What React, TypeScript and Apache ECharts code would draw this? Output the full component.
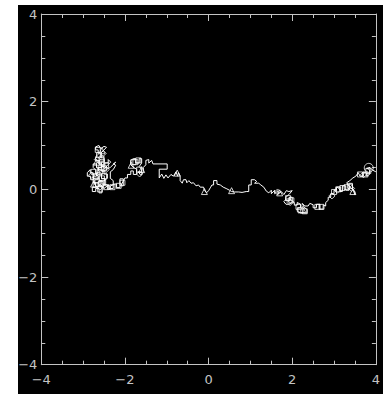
import React, { useEffect, useRef } from "react";
import * as echarts from "echarts";

const xTicks = [-4, -2, 0, 2, 4];
const yTicks = [-4, -2, 0, 2, 4];

const walk: number[][] = [
  [-2.6,0.3],[-2.6,0.38],[-2.68,0.38],[-2.68,0.3],[-2.75,0.3],[-2.75,0.22],[-2.82,0.22],[-2.82,0.3],[-2.9,0.3],[-2.9,0.38],[-2.83,0.45],[-2.83,0.38],[-2.76,0.38],[-2.76,0.15],[-2.7,0.15],[-2.7,0.05],[-2.78,0.05],[-2.78,-0.05],[-2.7,-0.05],[-2.7,0.02],[-2.62,0.02],[-2.62,-0.08],[-2.55,-0.08],[-2.55,0.05],[-2.62,0.1],[-2.62,0.2],[-2.55,0.2],[-2.55,0.12],[-2.48,0.12],[-2.48,0.25],[-2.56,0.25],[-2.56,0.35],[-2.63,0.42],[-2.63,0.5],[-2.55,0.5],[-2.55,0.58],[-2.62,0.58],[-2.62,0.66],[-2.7,0.66],[-2.7,0.74],[-2.64,0.8],[-2.64,0.9],[-2.7,0.9],[-2.7,0.97],[-2.62,1.0],[-2.58,0.93],[-2.5,0.98],[-2.44,0.96],[-2.52,0.88],[-2.58,0.82],[-2.58,0.72],[-2.5,0.72],[-2.5,0.62],[-2.57,0.62],[-2.57,0.52],[-2.48,0.52],[-2.48,0.6],[-2.4,0.6],[-2.4,0.68],[-2.34,0.62],[-2.42,0.55],[-2.5,0.45],[-2.5,0.35],[-2.42,0.35],[-2.42,0.25],[-2.5,0.2],[-2.5,0.1],[-2.42,0.1],[-2.42,0.0],[-2.35,0.0],[-2.35,0.08],[-2.28,0.1],[-2.28,0.2],[-2.35,0.25],[-2.35,0.4],[-2.28,0.45],[-2.22,0.55],[-2.28,0.58],[-2.22,0.62],[-2.35,0.5],[-2.45,0.45],[-2.52,0.4],[-2.6,0.45],[-2.68,0.5],[-2.68,0.58],[-2.76,0.58],[-2.76,0.5],[-2.7,0.44],[-2.7,0.36],[-2.64,0.3],[-2.64,0.22],[-2.72,0.22],[-2.72,0.1],[-2.66,0.05],[-2.58,0.1],[-2.5,0.02],[-2.45,0.06],
  [-2.38,0.1],[-2.38,0.02],[-2.28,0.02],[-2.28,0.12],[-2.2,0.12],[-2.2,0.04],[-2.12,0.04],[-2.12,0.24],[-2.04,0.24],[-2.04,0.08],[-2.1,0.08],[-2.0,0.26],[-1.94,0.26],[-1.94,0.34],[-1.86,0.34],[-1.86,0.42],
  [-1.8,0.42],[-1.8,0.34],[-1.72,0.34],[-1.72,0.46],[-1.8,0.5],[-1.86,0.56],[-1.86,0.66],[-1.8,0.7],[-1.74,0.7],[-1.74,0.6],[-1.66,0.6],[-1.66,0.7],[-1.6,0.7],[-1.6,0.6],[-1.66,0.52],[-1.6,0.46],[-1.6,0.38],[-1.68,0.4],[-1.62,0.32],[-1.56,0.4],[-1.56,0.5],[-1.5,0.56],[-1.5,0.66],
  [-1.43,0.68],[-1.43,0.6],[-1.36,0.66],[-1.33,0.58],[-0.99,0.58],[-0.99,0.46],[-1.18,0.46],[-1.18,0.26],
  [-1.12,0.35],[-1.07,0.25],[-1.02,0.33],[-0.97,0.26],[-0.9,0.34],[-0.84,0.3],[-0.78,0.4],[-0.74,0.3],[-0.72,0.38],[-0.68,0.3],[-0.68,0.2],[-0.63,0.14],[-0.6,0.22],[-0.54,0.22],[-0.52,0.15],[-0.47,0.2],[-0.42,0.14],[-0.36,0.15],[-0.3,0.08],[-0.24,0.1],[-0.2,0.05],[-0.12,0.05],[-0.1,-0.02],[-0.05,-0.08],[0.0,-0.03],[0.05,0.05],[0.08,0.1],[0.12,0.1],[0.12,0.2],[0.2,0.2],[0.2,0.12],[0.28,0.1],[0.35,0.05],[0.42,0.02],[0.5,-0.02],[0.55,-0.05],[0.62,-0.06],[0.72,-0.06],[0.8,-0.07],[0.9,-0.05],[0.96,-0.05],[0.96,0.1],[1.02,0.1],[1.02,0.22],[1.1,0.22],[1.15,0.18],[1.1,0.14],[1.2,0.14],[1.25,0.1],[1.32,0.05],[1.38,-0.04],[1.44,-0.08],
  [1.5,-0.02],[1.5,-0.1],[1.58,-0.02],[1.58,-0.1],[1.66,-0.03],[1.66,-0.1],[1.74,-0.05],[1.8,-0.12],[1.86,-0.03],[1.92,-0.05],[2.0,-0.03],
  [1.92,-0.12],[1.85,-0.18],[1.85,-0.26],[1.93,-0.26],[1.93,-0.18],[2.0,-0.18],[2.0,-0.3],[1.92,-0.34],[1.85,-0.34],[1.8,-0.28],[1.86,-0.22],[1.95,-0.22],[2.05,-0.3],[2.05,-0.36],[2.12,-0.36],[2.12,-0.3],[2.2,-0.34],[2.2,-0.42],[2.12,-0.42],[2.12,-0.5],[2.2,-0.54],[2.28,-0.54],[2.35,-0.54],[2.35,-0.46],[2.28,-0.4],[2.24,-0.32],[2.3,-0.38],[2.38,-0.38],[2.42,-0.32],[2.5,-0.35],[2.5,-0.42],[2.58,-0.42],[2.58,-0.34],[2.66,-0.34],[2.66,-0.45],[2.74,-0.45],[2.74,-0.36],[2.8,-0.38],[2.8,-0.3],[2.86,-0.25],[2.86,-0.18],[2.92,-0.18],[2.92,-0.1],[3.0,-0.1],[3.0,-0.02],[3.06,-0.02],[3.06,0.05],[3.14,0.05],[3.14,-0.05],[3.2,-0.05],[3.2,0.08],[3.28,0.08],[3.28,-0.02],[3.36,-0.02],[3.36,0.12],[3.44,0.12],[3.44,0.0],[3.5,-0.05],[3.5,-0.13],[3.46,-0.02],[3.38,0.05],[3.3,0.15],[3.38,0.2],[3.45,0.26],[3.52,0.3],[3.58,0.38],[3.62,0.3],[3.7,0.3],[3.7,0.38],[3.78,0.38],[3.78,0.3],[3.85,0.34],[3.85,0.45],[3.78,0.48],[3.86,0.5],[3.92,0.44],[4.0,0.4]
];

const triangleMarks: number[][] = [[-2.75,0.12],[-2.55,0.88],[-1.6,0.45],[-0.75,0.37],[0.55,-0.03],[2.25,-0.46],[3.45,-0.05],[-1.85,0.55],[-2.68,0.62],[-0.1,-0.05],[1.7,-0.08]];
const rectMarks: number[][] = [
  [-2.62,0.55],[-2.5,0.3],[-2.68,0.2],[-2.06,0.15],[-1.75,0.62],[1.9,-0.2],[2.6,-0.4],[3.1,0.0],[3.3,0.05],[-2.56,0.7],[-2.58,0.12],[2.3,-0.5],[3.0,-0.06],
  [-2.62,0.78],[-2.55,0.62],[-2.6,0.4],[-2.55,0.25],[-2.52,0.15],[-2.6,0.0],[-2.7,0.3],[-2.75,0.4],[-2.45,0.55],[-2.5,0.48],[-2.65,0.9],[-2.58,0.48],[-2.7,0.1],
  [-2.45,0.05],[-2.3,0.05],[-2.15,0.08],[-1.68,0.66],[-1.8,0.62],[-1.66,0.45],
  [1.98,-0.25],[2.2,-0.48],[2.15,-0.4],[2.7,-0.4],[3.2,0.03],[3.38,0.08],[3.62,0.34],[3.75,0.34],[3.82,0.42]
];
const diamondMarks: number[][] = [[-2.6,0.05],[-2.45,0.45],[-1.65,0.35],[1.65,-0.06],[2.95,-0.15],[3.7,0.33],[-2.8,0.32],[1.95,-0.3],[-2.52,0.82],[-2.66,0.68],[3.08,-0.02],[3.42,0.02]];
const circleMarks: number[][] = [[3.83,0.49]];

const minus = (v: number) => (v < 0 ? "\u2212" + Math.abs(v) : String(v));

export default function App() {
  const ref = useRef<HTMLDivElement>(null);
  useEffect(() => {
    if (!ref.current) return;
    const chart = echarts.init(ref.current, undefined, { renderer: "svg" });
    const axisColor = "#c4c4c4";
    const labelStyle = { color: "#c4c4c4", fontSize: 13, fontFamily: "DejaVu Sans" };
    const baseAxis = (pos: string, showLabel: boolean, margin: number) => ({
      type: "value",
      position: pos,
      min: xTicks[0],
      max: xTicks[xTicks.length - 1],
      interval: 2,
      axisLine: { show: true, onZero: false, lineStyle: { color: axisColor, width: 1 } },
      axisTick: { show: true, inside: true, length: 7, lineStyle: { color: axisColor } },
      minorTick: { show: true, splitNumber: 4, length: 4, lineStyle: { color: axisColor } },
      splitLine: { show: false },
      axisLabel: { show: showLabel, margin, formatter: minus, ...labelStyle },
    });
    const sc = (data: number[][], symbol: string, size: number) => ({
      type: "scatter",
      data,
      symbol,
      symbolSize: size,
      itemStyle: { color: "transparent", borderColor: "#ffffff", borderWidth: 1 },
      z: 3,
    });
    chart.setOption({
      animation: false,
      backgroundColor: "#ffffff",
      graphic: [
        { type: "rect", shape: { x: 18, y: 5, width: 365, height: 389 }, style: { fill: "#000000" }, z: -10, silent: true },
      ],
      grid: { left: 41.3, right: 0.7, top: 14, bottom: 29.3 },
      xAxis: [baseAxis("bottom", true, 8), baseAxis("top", false, 8)],
      yAxis: [
        { ...baseAxis("left", true, 4), min: yTicks[0], max: yTicks[yTicks.length - 1] },
        { ...baseAxis("right", false, 4), min: yTicks[0], max: yTicks[yTicks.length - 1] },
      ],
      series: [
        {
          type: "line",
          data: walk,
          showSymbol: false,
          symbol: "none",
          lineStyle: { color: "#ffffff", width: 1 },
          z: 2,
        },
        sc(triangleMarks, "triangle", 6),
        sc(rectMarks, "rect", 5),
        sc(diamondMarks, "diamond", 6),
        sc(circleMarks, "circle", 9),
      ],
    });
    return () => chart.dispose();
  }, []);
  return (
    <div
      ref={ref}
      style={{ position: "fixed", left: 0, top: 0, width: 383, height: 394 }}
    />
  );
}
